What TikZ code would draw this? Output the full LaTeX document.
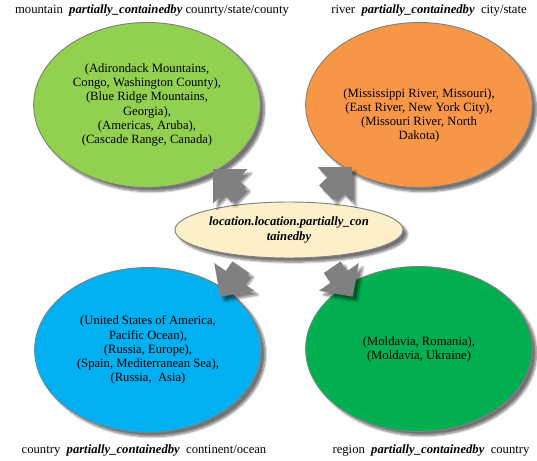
\documentclass[tikz,border=0pt]{standalone}
\usepackage{fontspec}
\setmainfont{Liberation Serif}
\usetikzlibrary{shapes.geometric,shapes.arrows,shadows.blur}

\definecolor{mountgreen}{HTML}{92D050}
\definecolor{riverorange}{HTML}{F79646}
\definecolor{countryblue}{HTML}{00B0F0}
\definecolor{regiongreen}{HTML}{00B050}
\definecolor{relcream}{HTML}{FDEFC9}

\begin{document}
\begin{tikzpicture}[x=0.03cm,y=-0.03cm,
    bubble/.style={ellipse, draw=black!50, line width=0.8pt, inner sep=0pt,
      minimum width=6.8cm, minimum height=4.95cm, align=center,
      font=\fontsize{10.8}{12}\selectfont,
      blur shadow={shadow xshift=3.5pt, shadow yshift=-3.5pt, shadow blur steps=8, shadow opacity=55}},
    pointer/.style={single arrow, fill=black!50, draw=none, anchor=tip,
      single arrow tip angle=90, single arrow head extend=0.42cm,
      minimum height=1.08cm, inner xsep=0pt, inner ysep=0.3cm,
      blur shadow={shadow xshift=3.5pt, shadow yshift=-3.5pt, shadow blur steps=8, shadow opacity=50}},
    caption/.style={font=\fontsize{10.8}{12}\selectfont, inner sep=0pt}]
    \useasboundingbox (0,0) rectangle (537,461);
    % the four example sets
    \node[bubble, fill=mountgreen] (mountain) at (147,105)
      {(Adirondack Mountains,\\ Congo, Washington County),\\ (Blue Ridge Mountains,\\ Georgia),\\ (Americas, Aruba),\\ (Cascade Range, Canada)};
    \node[bubble, fill=riverorange, text height=61pt] (river) at (419,105)
      {(Mississippi River, Missouri),\\ (East River, New York City),\\ (Missouri River, North\\ Dakota)};
    \node[bubble, fill=countryblue] (country) at (148,350)
      {(United States of America,\\ Pacific Ocean),\\ (Russia, Europe),\\ (Spain, Mediterranean Sea),\\ (Russia,~ Asia)};
    \node[bubble, fill=regiongreen] (region) at (419,349)
      {(Moldavia, Romania),\\ (Moldavia, Ukraine)};
    % relation in the middle
    \node[bubble, fill=relcream, minimum height=1.68cm, minimum width=6.84cm,
      font=\fontsize{10.8}{12}\selectfont\bfseries\itshape] (relation) at (289,230)
      {location.location.partially\_con\\ tainedby};
    % block arrows
    \foreach \x/\y/\a/\n in {213/169/135/tomountain, 352/167/45/toriver,
                              220/297/235/tocountry, 353/297/305/toregion}
      \node[pointer, rotate=\a] (\n) at (\x,\y) {};
    % captions
    \node[caption] (mountaincap) at (152,10) {mountain~ \textbf{\textit{partially\_containedby}} counrty/state/county};
    \node[caption] (rivercap) at (429,10) {river~ \textbf{\textit{partially\_containedby}}~ city/state};
    \node[caption] (countrycap) at (144,450) {country~ \textbf{\textit{partially\_containedby}}~ continent/ocean};
    \node[caption] (regioncap) at (431,450) {region~ \textbf{\textit{partially\_containedby}}~ country};
\end{tikzpicture}
\end{document}
